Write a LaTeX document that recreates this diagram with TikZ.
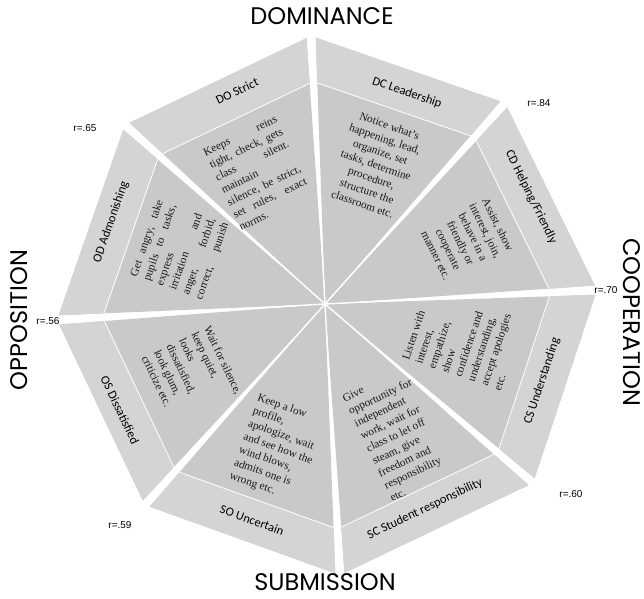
\documentclass[tikz,border=0pt]{standalone}
\usepackage{fontspec}
\setmainfont{Liberation Serif}
\newfontfamily\labfnt{Carlito}
\newfontfamily\headfnt{Poppins}
\newfontfamily\rfnt{Liberation Sans}
\usetikzlibrary{calc}
\newcommand\jl[2]{\makebox[#1pt][s]{#2}}
\begin{document}
\begin{tikzpicture}[x=1pt,y=-1pt,
  secfill/.style={fill=black!21},
  bandfill/.style={fill=black!17},
  divline/.style={draw=white,line width=0.8pt},
  gapline/.style={draw=white,line width=1.4pt},
  band/.style={font=\labfnt\fontsize{12.5}{14}\selectfont, inner sep=0pt},
  itext/.style={font=\fontsize{11.3}{13.8}\selectfont, inner sep=0pt, text=black!90},
  head/.style={font=\headfnt\fontsize{24}{26}\selectfont, inner sep=0pt},
  rlab/.style={font=\rfnt\fontsize{10}{12}\selectfont, inner sep=0pt}]
\useasboundingbox (0,0) rectangle (644,598);
\coordinate (C) at (325,304);
\coordinate (V1) at (311,36);
\coordinate (V2) at (505,103);
\coordinate (V3) at (597,290);
\coordinate (V4) at (533,483);
\coordinate (V5) at (340,575);
\coordinate (V6) at (145,505);
\coordinate (V7) at (57,320);
\coordinate (V8) at (125,125);
\foreach \a/\b in {1/2,2/3,3/4,4/5,5/6,6/7,7/8,8/1}{
  \coordinate (A) at ($(V\a)!5pt!(V\b)$);
  \coordinate (B) at ($(V\b)!5pt!(V\a)$);
  \fill[secfill] (C) -- (A) -- (B) -- cycle;
  \fill[bandfill] (A) -- (B) -- ($(C)!0.83!(B)$) -- ($(C)!0.83!(A)$) -- cycle;
  \draw[divline] ($(C)!0.83!(A)$) -- ($(C)!0.83!(B)$);
}
\foreach \v in {1,...,8}{\draw[gapline] (C) -- (V\v);}
% band labels
\node[band, rotate=25.6] (lDO) at (237,91) {DO Strict};
\node[band, rotate=-19.05] (lDC) at (407,93) {DC Leadership};
\node[band, rotate=-63.8] (lCD) at (531,197) {CD Helping/Friendly};
\node[band, rotate=71.65] (lCS) at (542,381) {CS Understanding};
\node[band, rotate=25.5] (lSC) at (425,509) {SC Student responsibility};
\node[band, rotate=-19.7] (lSO) at (252,520) {SO Uncertain};
\node[band, rotate=-64.6] (lOS) at (120,410) {OS Dissatisfied};
\node[band, rotate=70.8] (lOD) at (111,222) {OD Admonishing};
% inner texts
\node[itext, rotate=25.6, align=left] (tDO) at (258,173) {\jl{80}{Keeps reins}\\\jl{80}{tight, check, gets}\\\jl{80}{class silent.}\\maintain\\\jl{80}{silence, be strict,}\\\jl{80}{set rules, exact}\\norms.};
\node[itext, rotate=-19.05, align=center] (tDC) at (376,165) {Notice what's\\happening, lead,\\organize, set\\tasks, determine\\procedure,\\structure the\\classroom etc.};
\node[itext, rotate=-63.8, align=center] (tCD) at (467,240) {Assist, show\\interest, join,\\behave in a\\friendly or\\cooperate\\manner etc.};
\node[itext, rotate=71.65, align=left] (tCS) at (463,339) {Listen with\\interest,\\empathize,\\show\\confidence and\\understanding,\\accept apologies\\etc.};
\node[itext, rotate=25.5, align=left] (tSC) at (398,434) {Give\\opportunity for\\independent\\work, wait for\\class to let off\\steam, give\\freedom and\\responsibility\\etc.};
\node[itext, rotate=-19.7, align=left] (tSO) at (278,449) {Keep a low\\profile,\\apologize, wait\\and see how the\\wind blows,\\admits one is\\wrong etc.};
\node[itext, rotate=-64.6, align=left] (tOS) at (192,375) {Wait for silence,\\keep quiet,\\looks\\dissatisfied,\\look glum,\\criticize etc.};
\node[itext, rotate=70.8, align=left] (tOD) at (180,250) {\jl{80}{Get angry, take}\\\jl{80}{pupils to tasks,}\\express\\\jl{80}{irritation and}\\\jl{80}{anger, forbid,}\\\jl{80}{correct, punish}};
% headings
\node[head] (hD) at (322,16) {DOMINANCE};
\node[head] (hS) at (325,582) {SUBMISSION};
\node[head, rotate=90] (hO) at (19,320) {OPPOSITION};
\node[head, rotate=-90] (hC) at (632,322) {COOPERATION};
% r values
\node[rlab] (r1) at (85,128) {r=.65};
\node[rlab] (r2) at (539,103) {r=.84};
\node[rlab] (r3) at (606,290) {r=.70};
\node[rlab] (r4) at (571,494) {r=.60};
\node[rlab] (r5) at (120,525) {r=.59};
\node[rlab] (r6) at (48,321) {r=.56};
\end{tikzpicture}
\end{document}
